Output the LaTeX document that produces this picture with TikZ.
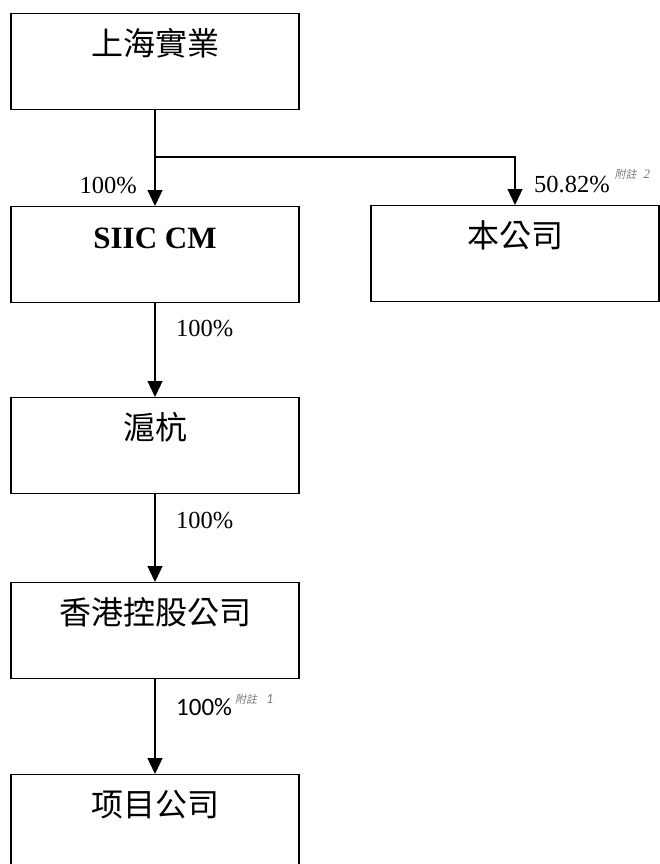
\documentclass[tikz,border=0pt]{standalone}
\usepackage{fontspec}
\setmainfont{Liberation Serif}
\newfontfamily\tcfont{Noto Sans CJK TC}
\newfontfamily\scfont{Noto Sans CJK SC}
\newfontfamily\notefont[FakeSlant=0.2]{Noto Sans CJK TC}
\newfontfamily\calfont{Carlito}
\usetikzlibrary{arrows.meta}
\definecolor{notegray}{RGB}{120,120,120}
\newcommand{\fnote}[3]{\raisebox{#1}{\fontsize{#2}{#2}\selectfont\color{notegray}#3}}

\begin{document}
\begin{tikzpicture}[x=1pt,y=-1pt,
    firm/.style={draw, line width=1.3pt, minimum width=288pt, inner sep=0pt,
      text height=42pt, text depth=54pt, anchor=north,
      font=\fontsize{32}{32}\selectfont\tcfont},
    pct/.style={inner sep=0pt, font=\fontsize{24.5}{24.5}\selectfont},
    link/.style={line width=1.3pt, -{Triangle[width=15pt,length=16pt]}}]

    \useasboundingbox (0,0) rectangle (660,864);
    \clip (0,0) rectangle (660,864);

    % companies
    \node[firm] (sh)   at (155,13)  {上海實業};
    \node[firm, font=\fontsize{31}{31}\selectfont\bfseries] (siic) at (155,206) {SIIC CM};
    \node[firm] (co)   at (515,205) {本公司};
    \node[firm] (hh)   at (155,397) {滬杭};
    \node[firm] (hk)   at (155,582) {香港控股公司};
    \node[firm, font=\fontsize{32}{32}\selectfont\scfont] (proj) at (155,774) {项目公司};

    % holdings
    \coordinate (split) at (155,157);
    \draw[link] (sh.south) -- (siic.north);
    \draw[link] (split) -| (co.north);
    \draw[link] (siic.south) -- (hh.north);
    \draw[link] (hh.south) -- (hk.north);
    \draw[link] (hk.south) -- (proj.north);

    % shares
    \node[pct, anchor=base east] (lblSiic) at (137,193) {100\%};
    \node[pct, anchor=base west] (lblCo) at (534,192)
      {50.82\%\hspace{5pt}\fnote{14pt}{11}{{\notefont 附註}\hspace{7pt}{\fontsize{13}{13}\selectfont\itshape 2}}};
    \node[pct, anchor=base west] (lblHh) at (176,336) {100\%};
    \node[pct, anchor=base west] (lblHk) at (176,528) {100\%};
    \node[pct, anchor=base west, font=\fontsize{25}{25}\selectfont\calfont] (lblProj) at (176,715)
      {100\%\hspace{3pt}\fnote{12pt}{11}{{\notefont 附註}\hspace{9pt}{\fontsize{14}{14}\selectfont\itshape 1}}};

\end{tikzpicture}
\end{document}
